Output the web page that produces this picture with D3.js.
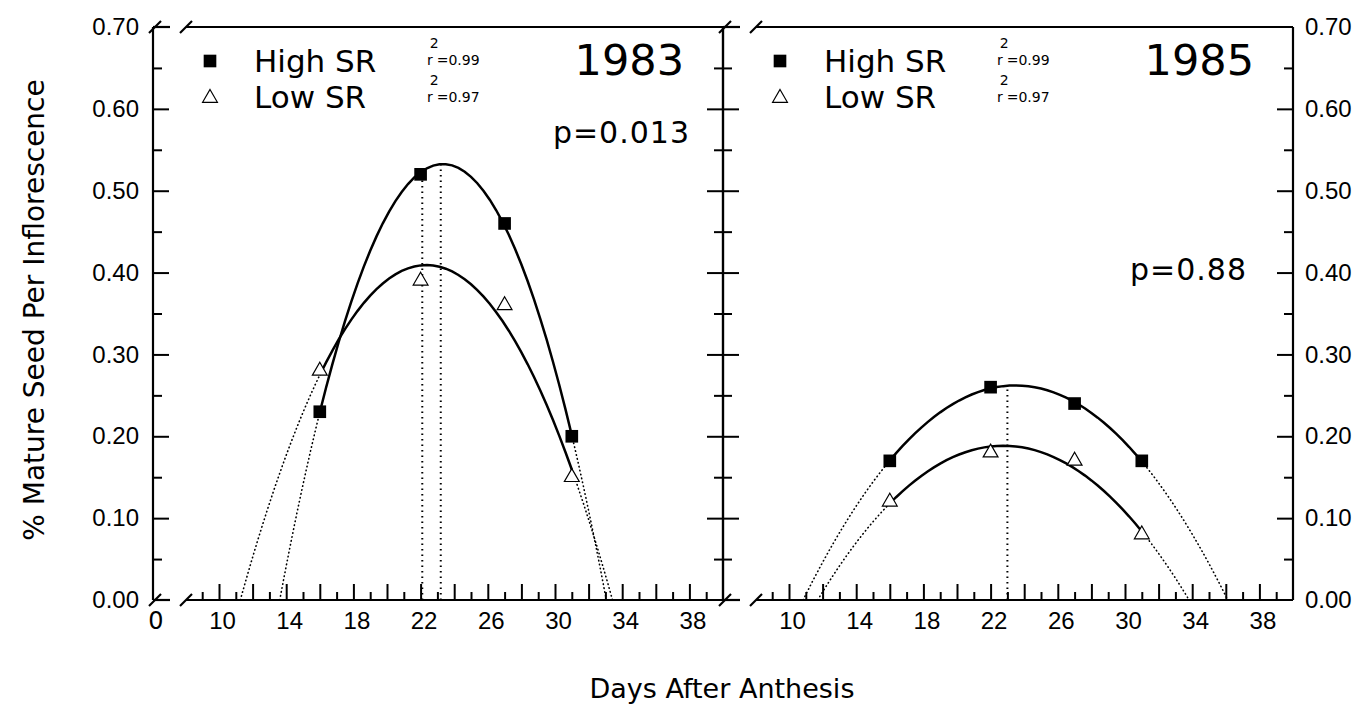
<!DOCTYPE html>
<html>
<head>
<meta charset="utf-8">
<script src="https://cdn.jsdelivr.net/npm/d3@7"></script>
<style>
  body { margin: 0; background: #fff; }
  svg { font-family: 'DejaVu Sans', sans-serif; }
  .axis path.domain { display: none; }
  .axis line { stroke: #000; stroke-width: 2; }
  .axis text { font-size: 24px; fill: #000; }
  .frame line { stroke: #000; stroke-width: 2.2; }
</style>
</head>
<body>
<div id="chart"></div>
<script>
// values
const days = [16, 22, 27, 31]
const high1983 = [0.23, 0.52, 0.46, 0.20]
const low1983 = [0.28, 0.39, 0.36, 0.15]
const high1985 = [0.17, 0.26, 0.24, 0.17]
const low1985 = [0.12, 0.18, 0.17, 0.08]
const years = ['1983', '1985']
const pLabels = ['p=0.013', 'p=0.88']
const r2High = ['0.99', '0.99']
const r2Low = ['0.97', '0.97']
// dotted drop lines: [day, top value]
const peakLines1983 = [[22.1, 0.52], [23.2, 0.535]]
const peakLines1985 = [[23.0, 0.262]]
const yMajor = [0.1, 0.2, 0.3, 0.4, 0.5, 0.6]
const yMinor = [0.05, 0.15, 0.25, 0.35, 0.45, 0.55, 0.65]
const yLabels = [0, 0.1, 0.2, 0.3, 0.4, 0.5, 0.6, 0.7]
const xLabels = [10, 14, 18, 22, 26, 30, 34, 38]
const xTicks = d3.range(9, 40)

const width = 1364, height = 704
const panelW = 570
const yTop = 27, yBottom = 600

const svg = d3.select('#chart').append('svg')
    .attr('width', width)
    .attr('height', height)

const y = d3.scaleLinear().domain([0, 0.7]).range([yBottom, yTop])
const fmt = d3.format('.2f')

// least squares quadratic, the regression drawn in the figure
function quadFit(xs, ys) {
    const m = d3.mean(xs)
    const t = xs.map(x => x - m)
    const s = k => d3.sum(t, v => Math.pow(v, k))
    const sy = k => d3.sum(t, (v, i) => Math.pow(v, k) * ys[i])
    const M = [[xs.length, s(1), s(2)], [s(1), s(2), s(3)], [s(2), s(3), s(4)]]
    const rhs = [sy(0), sy(1), sy(2)]
    const det = A => A[0][0] * (A[1][1] * A[2][2] - A[1][2] * A[2][1])
        - A[0][1] * (A[1][0] * A[2][2] - A[1][2] * A[2][0])
        + A[0][2] * (A[1][0] * A[2][1] - A[1][1] * A[2][0])
    const D = det(M)
    const [a, b, c] = [0, 1, 2].map(j => det(M.map((row, i) => row.map((v, k) => k === j ? rhs[i] : v))) / D)
    const disc = Math.sqrt(b * b - 4 * c * a)
    const roots = [(-b + disc) / (2 * c) + m, (-b - disc) / (2 * c) + m].sort((p, q) => p - q)
    return { f: x => a + b * (x - m) + c * (x - m) * (x - m), roots }
}

const panels = [
    { left: 153, year: years[0], p: pLabels[0], pX: 690, pY: 143, high: high1983, low: low1983, peaks: peakLines1983, r2: [r2High[0], r2Low[0]], zero: true },
    { left: 723, year: years[1], p: pLabels[1], pX: 1247, pY: 280, high: high1985, low: low1985, peaks: peakLines1985, r2: [r2High[1], r2Low[1]], zero: false }
]

panels.forEach((p, idx) => {
    const L = p.left
    const x = d3.scaleLinear().domain([10, 40]).range([L + 66, L + panelW])
    const g = svg.append('g')

    // frame with axis breaks
    const fr = g.append('g').attr('class', 'frame')
    ;[yTop, yBottom].forEach(yy => {
        fr.append('line').attr('x1', L).attr('x2', L + 17).attr('y1', yy).attr('y2', yy)
        fr.append('line').attr('x1', L + 33).attr('x2', L + panelW).attr('y1', yy).attr('y2', yy)
        ;[L + 2, L + 33].forEach(cx => {
            fr.append('line').attr('x1', cx - 6).attr('x2', cx + 6).attr('y1', yy + 6).attr('y2', yy - 6)
        })
    })
    fr.append('line').attr('x1', L).attr('x2', L).attr('y1', yTop).attr('y2', yBottom)
    fr.append('line').attr('x1', L + panelW).attr('x2', L + panelW).attr('y1', yTop).attr('y2', yBottom)

    // y ticks pointing inward on both sides
    const leftAxis = g.append('g').attr('class', 'axis').attr('transform', `translate(${L},0)`)
    leftAxis.append('g').call(d3.axisLeft(y).tickValues(yMajor).tickSize(-16).tickSizeOuter(0).tickFormat(''))
    leftAxis.append('g').call(d3.axisLeft(y).tickValues(yMinor).tickSize(-9).tickSizeOuter(0).tickFormat(''))
    const rightAxis = g.append('g').attr('class', 'axis').attr('transform', `translate(${L + panelW},0)`)
    rightAxis.append('g').call(d3.axisRight(y).tickValues(yMajor).tickSize(-16).tickSizeOuter(0).tickFormat(''))
    rightAxis.append('g').call(d3.axisRight(y).tickValues(yMinor).tickSize(-9).tickSizeOuter(0).tickFormat(''))

    if (idx === 0) {
        leftAxis.append('g')
            .call(d3.axisLeft(y).tickValues(yLabels).tickSize(0).tickPadding(14).tickFormat(fmt))
    } else {
        rightAxis.append('g')
            .call(d3.axisRight(y).tickValues(yLabels).tickSize(0).tickPadding(12).tickFormat(fmt))
    }

    // x ticks
    const xAxis = g.append('g').attr('class', 'axis').attr('transform', `translate(0,${yBottom})`)
    xAxis.append('g').call(d3.axisBottom(x).tickValues(xTicks.filter(d => d % 2 === 0)).tickSize(-16).tickSizeOuter(0).tickFormat(''))
    xAxis.append('g').call(d3.axisBottom(x).tickValues(xTicks.filter(d => d % 2 === 1)).tickSize(-8).tickSizeOuter(0).tickFormat(''))
    xAxis.append('g').call(d3.axisBottom(x).tickValues(xLabels).tickSize(0).tickPadding(12).tickFormat(d3.format('d')))
        .selectAll('text').attr('dx', 3)
    if (p.zero) {
        xAxis.append('text')
            .attr('x', L + 3).attr('y', 12).attr('dy', '0.71em')
            .attr('text-anchor', 'middle')
            .text('0')
    }

    // drop lines at the fitted maxima
    g.selectAll('.peak')
        .data(p.peaks)
        .join('line')
        .attr('x1', d => x(d[0])).attr('x2', d => x(d[0]))
        .attr('y1', y(0)).attr('y2', d => y(d[1]))
        .attr('stroke', '#000')
        .attr('stroke-width', 2)
        .attr('stroke-dasharray', '1.5,4')

    const line = d3.line().x(d => x(d[0])).y(d => y(d[1]))
    ;[p.high, p.low].forEach(vals => {
        const fit = quadFit(days, vals)
        const d0 = days[0], d1 = days[days.length - 1]
        const seg = (a, b) => d3.range(0, 41).map(i => {
            const dd = a + (b - a) * i / 40
            return [dd, Math.max(0, fit.f(dd))]
        })
        g.append('path').attr('d', line(seg(d0, d1)))
            .attr('fill', 'none').attr('stroke', '#000').attr('stroke-width', 2.5)
        ;[[fit.roots[0], d0], [d1, fit.roots[1]]].forEach(r => {
            g.append('path').attr('d', line(seg(r[0], r[1])))
                .attr('fill', 'none').attr('stroke', '#000')
                .attr('stroke-width', 1.6)
                .attr('stroke-linecap', 'round')
                .attr('stroke-dasharray', '0.5,3.5')
        })
    })

    const square = d3.symbol().type(d3.symbolSquare).size(160)
    const tri = d3.symbol().type(d3.symbolTriangle).size(95)

    g.selectAll('.low')
        .data(days.map((d, i) => [d, p.low[i]]))
        .join('path')
        .attr('class', 'low')
        .attr('transform', d => `translate(${x(d[0])},${y(d[1])})`)
        .attr('d', tri)
        .attr('fill', '#fff').attr('stroke', '#000').attr('stroke-width', 1.2)

    g.selectAll('.high')
        .data(days.map((d, i) => [d, p.high[i]]))
        .join('path')
        .attr('class', 'high')
        .attr('transform', d => `translate(${x(d[0])},${y(d[1])})`)
        .attr('d', square)
        .attr('fill', '#000')

    // legend
    const lg = g.append('g')
    lg.append('path').attr('transform', `translate(${L + 57},61)`).attr('d', square).attr('fill', '#000')
    lg.append('path').attr('transform', `translate(${L + 57},98)`).attr('d', tri)
        .attr('fill', '#fff').attr('stroke', '#000').attr('stroke-width', 1.2)
    lg.append('text').attr('x', L + 101).attr('y', 72).style('font-size', '31px').text('High SR')
    lg.append('text').attr('x', L + 101).attr('y', 108).style('font-size', '31px').text('Low SR')
    ;[65, 102].forEach((by, i) => {
        const rt = lg.append('text').attr('x', L + 274).attr('y', by).style('font-size', '14px')
        rt.append('tspan').text('r')
        rt.append('tspan').attr('dx', -3).attr('dy', -17).text('2')
        rt.append('tspan').attr('dx', -2).attr('dy', 17).text('=' + p.r2[i])
    })
    lg.append('text').attr('x', L + 531).attr('y', 75)
        .attr('text-anchor', 'end').style('font-size', '43px').text(p.year)

    g.append('text').attr('x', p.pX).attr('y', p.pY)
        .attr('text-anchor', 'end').style('font-size', '30px')
        .style('letter-spacing', '1px')
        .text(p.p)
})

svg.append('text')
    .attr('transform', 'translate(44,310) rotate(-90)')
    .attr('text-anchor', 'middle')
    .style('font-size', '28px')
    .text('% Mature Seed Per Inflorescence')

svg.append('text')
    .attr('x', 722).attr('y', 698)
    .attr('text-anchor', 'middle')
    .style('font-size', '27px')
    .text('Days After Anthesis')
</script>
</body>
</html>
